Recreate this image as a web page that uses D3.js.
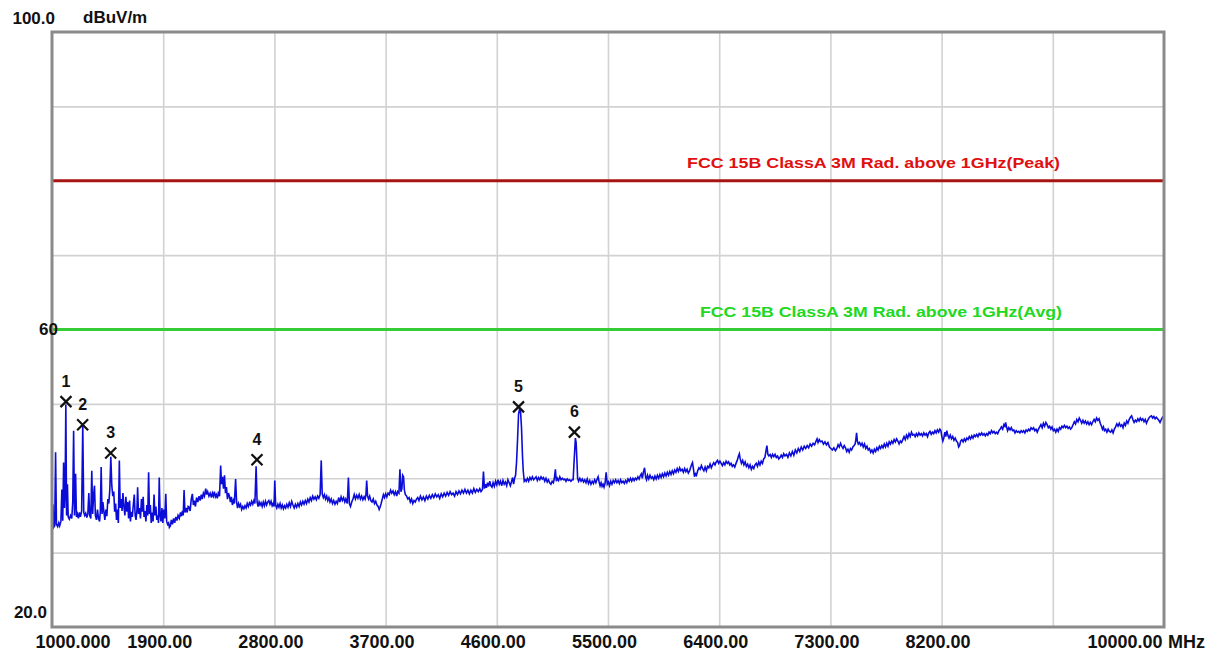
<!DOCTYPE html>
<html>
<head>
<meta charset="utf-8">
<script src="https://cdn.jsdelivr.net/npm/d3@7"></script>
<style>
  body { margin: 0; background: #fff; }
  svg text { font-family: "Liberation Sans", Arial, sans-serif; font-weight: bold; }
</style>
</head>
<body>
<div id="chart"></div>
<script>
// axis ticks
const xTickValues = [1000, 1900, 2800, 3700, 4600, 5500, 6400, 7300, 8200, 10000];
const xTickLabels = ['1000.000', '1900.00', '2800.00', '3700.00', '4600.00', '5500.00', '6400.00', '7300.00', '8200.00', '10000.00'];
const xUnit = 'MHz';
const yTickValues = [100, 60, 20];
const yTickLabels = ['100.0', '60', '20.0'];
const yUnit = 'dBuV/m';

// limit lines
const limitNames = ['FCC 15B ClassA 3M Rad. above 1GHz(Peak)', 'FCC 15B ClassA 3M Rad. above 1GHz(Avg)'];
const limitLevels = [80, 60];

// marked peaks
const markerIds = ['1', '2', '3', '4', '5', '6'];
const markerFreq = [1113, 1248, 1475, 2659, 4776, 5228];
const markerLevel = [50.3, 47.2, 43.4, 42.5, 49.6, 46.2];

// measured trace [MHz, dBuV/m]
const trace = [
  [1000, 33.2], [1008, 36.5], [1014, 33.4], [1022, 33.6], [1029, 43.5], [1036, 33.8], [1046, 33.5], [1055, 34.0],
  [1062, 33.6], [1072, 34.2], [1080, 38.5], [1087, 34.3], [1094, 42.1], [1101, 36.0], [1106, 38.0], [1112, 49.9],
  [1118, 35.0], [1125, 39.2], [1131, 34.8], [1140, 34.5], [1150, 35.0], [1160, 34.6], [1168, 36.8], [1175, 46.4],
  [1182, 35.0], [1191, 40.6], [1198, 34.8], [1206, 35.2], [1214, 34.6], [1222, 35.4], [1230, 34.8], [1240, 35.6],
  [1249, 47.2], [1257, 35.4], [1265, 35.0], [1273, 35.3], [1282, 34.7], [1290, 35.2], [1298, 38.0], [1305, 35.0],
  [1314, 34.6], [1322, 41.0], [1329, 35.2], [1337, 37.8], [1344, 39.0], [1351, 35.0], [1360, 34.4], [1368, 35.8],
  [1376, 34.6], [1385, 34.2], [1391, 35.5], [1398, 41.5], [1405, 35.2], [1412, 36.8], [1420, 35.5], [1428, 34.4],
  [1436, 35.8], [1444, 34.9], [1452, 37.2], [1460, 36.6], [1468, 38.5], [1476, 42.9], [1484, 39.0], [1492, 37.6],
  [1500, 38.2], [1507, 35.5], [1515, 36.6], [1522, 34.4], [1530, 35.8], [1537, 34.0], [1545, 42.4], [1552, 36.0],
  [1560, 37.2], [1567, 35.6], [1574, 38.0], [1582, 36.2], [1590, 35.0], [1598, 37.5], [1606, 35.5], [1613, 36.8],
  [1620, 34.6], [1628, 37.0], [1635, 34.2], [1642, 35.5], [1650, 34.8], [1658, 36.4], [1666, 37.8], [1673, 35.0],
  [1680, 34.4], [1687, 35.6], [1693, 38.8], [1700, 35.2], [1708, 36.0], [1716, 34.6], [1724, 37.2], [1731, 35.5],
  [1738, 37.5], [1745, 34.8], [1752, 35.6], [1760, 34.2], [1768, 36.4], [1775, 35.0], [1782, 40.8], [1789, 35.2],
  [1796, 36.4], [1803, 34.0], [1810, 35.4], [1818, 34.2], [1826, 37.8], [1833, 35.0], [1841, 36.2], [1848, 34.4],
  [1856, 35.0], [1862, 34.0], [1868, 40.1], [1875, 35.0], [1882, 34.2], [1890, 36.0], [1897, 34.0], [1905, 35.8],
  [1913, 34.6], [1921, 37.9], [1928, 34.2], [1936, 33.8], [1944, 34.0], [1950, 33.4], [1958, 33.6], [1966, 34.4],
  [1975, 33.8], [1984, 34.6], [1993, 34.0], [2002, 34.8], [2011, 34.3], [2020, 35.0], [2030, 34.6], [2040, 35.4],
  [2048, 34.9], [2056, 35.6], [2062, 35.0], [2069, 38.4], [2076, 35.4], [2085, 36.0], [2094, 35.4], [2102, 36.2],
  [2110, 36.1], [2118, 35.6], [2127, 37.2], [2136, 37.9], [2144, 36.4], [2152, 37.0], [2161, 36.2], [2170, 37.4],
  [2180, 36.8], [2190, 37.6], [2199, 37.0], [2208, 37.8], [2216, 37.2], [2225, 38.0], [2234, 37.6], [2244, 38.6],
  [2252, 37.8], [2260, 38.2], [2270, 37.6], [2280, 38.0], [2290, 37.4], [2298, 38.0], [2306, 37.6], [2314, 38.2],
  [2322, 37.5], [2330, 37.8], [2338, 37.3], [2346, 38.0], [2356, 37.6], [2365, 41.7], [2372, 39.2], [2380, 40.2],
  [2388, 38.6], [2396, 40.4], [2404, 38.0], [2412, 38.8], [2420, 37.2], [2428, 38.0], [2436, 37.6], [2444, 36.8],
  [2452, 37.5], [2460, 36.4], [2468, 37.0], [2476, 36.6], [2486, 39.9], [2494, 36.8], [2502, 36.0], [2510, 36.6],
  [2518, 36.2], [2526, 36.5], [2535, 35.8], [2544, 36.2], [2553, 35.9], [2562, 36.3], [2571, 36.0], [2580, 36.6],
  [2589, 36.2], [2598, 36.7], [2607, 36.4], [2616, 36.9], [2625, 36.5], [2634, 37.0], [2642, 36.6], [2652, 41.6],
  [2660, 36.8], [2668, 36.2], [2676, 36.8], [2684, 36.4], [2692, 36.7], [2701, 36.2], [2710, 36.8], [2719, 36.3],
  [2728, 36.9], [2737, 36.4], [2746, 36.8], [2755, 37.0], [2764, 36.5], [2773, 36.9], [2782, 36.3], [2790, 36.6],
  [2797, 36.2], [2803, 39.7], [2810, 36.4], [2819, 36.0], [2828, 36.5], [2837, 36.1], [2846, 36.6], [2855, 36.0],
  [2864, 36.4], [2873, 35.9], [2882, 36.3], [2891, 36.0], [2900, 36.5], [2910, 36.1], [2920, 36.7], [2930, 36.2],
  [2940, 36.9], [2950, 36.4], [2960, 36.0], [2970, 36.5], [2980, 36.1], [2990, 36.6], [3000, 36.2], [3010, 36.8],
  [3020, 36.4], [3030, 36.9], [3040, 36.5], [3050, 37.0], [3060, 36.6], [3070, 37.2], [3080, 36.8], [3090, 37.4],
  [3100, 37.0], [3110, 37.6], [3120, 37.2], [3130, 37.5], [3140, 37.1], [3150, 37.6], [3160, 37.3], [3170, 37.8],
  [3179, 42.4], [3187, 37.9], [3196, 37.4], [3205, 37.8], [3214, 37.2], [3223, 37.6], [3232, 37.0], [3241, 37.4],
  [3250, 36.8], [3260, 37.2], [3270, 36.6], [3280, 37.0], [3290, 36.5], [3300, 36.9], [3310, 36.6], [3320, 37.4],
  [3330, 36.8], [3340, 37.5], [3350, 37.0], [3360, 37.4], [3370, 36.8], [3378, 37.2], [3390, 36.6], [3399, 40.1],
  [3407, 36.6], [3416, 36.2], [3426, 36.8], [3436, 37.2], [3446, 37.8], [3456, 37.2], [3466, 37.7], [3476, 37.3],
  [3486, 37.8], [3496, 37.2], [3506, 37.6], [3516, 37.1], [3526, 37.5], [3534, 37.2], [3541, 37.8], [3547, 39.7],
  [3554, 37.6], [3562, 37.2], [3571, 37.6], [3580, 37.0], [3590, 36.8], [3600, 37.2], [3610, 36.6], [3620, 36.9],
  [3630, 36.4], [3640, 36.2], [3648, 35.8], [3655, 36.1], [3664, 36.6], [3673, 37.2], [3682, 37.8], [3691, 37.4],
  [3700, 37.9], [3710, 37.5], [3720, 38.0], [3730, 37.8], [3740, 38.4], [3750, 38.0], [3760, 38.3], [3770, 37.8],
  [3780, 38.2], [3790, 37.6], [3798, 38.2], [3808, 38.0], [3816, 41.2], [3824, 38.2], [3832, 38.6], [3838, 40.4],
  [3845, 40.2], [3852, 38.4], [3860, 37.8], [3870, 37.6], [3880, 37.2], [3890, 37.4], [3900, 36.8], [3910, 37.2],
  [3920, 36.6], [3930, 37.0], [3940, 36.8], [3950, 37.2], [3960, 37.4], [3970, 37.0], [3982, 37.6], [3994, 37.1],
  [4006, 37.5], [4018, 37.0], [4030, 37.6], [4042, 37.2], [4054, 37.7], [4066, 37.3], [4078, 37.8], [4090, 37.4],
  [4102, 37.9], [4114, 37.5], [4126, 37.8], [4138, 37.3], [4150, 37.9], [4162, 37.5], [4174, 38.0], [4186, 37.6],
  [4198, 38.1], [4210, 37.7], [4222, 38.2], [4234, 37.8], [4246, 38.0], [4258, 37.6], [4270, 38.2], [4282, 37.8],
  [4294, 38.3], [4306, 37.9], [4318, 38.4], [4330, 38.0], [4342, 38.5], [4354, 38.0], [4366, 38.4], [4378, 37.9],
  [4390, 38.4], [4402, 38.0], [4414, 38.6], [4426, 38.1], [4438, 38.5], [4450, 38.2], [4462, 38.6], [4472, 38.2],
  [4484, 38.5], [4492, 40.9], [4500, 38.6], [4508, 39.2], [4516, 38.7], [4525, 39.4], [4534, 38.9], [4543, 39.6],
  [4552, 39.0], [4561, 38.8], [4570, 39.4], [4580, 38.9], [4590, 39.6], [4600, 39.1], [4610, 39.8], [4620, 39.2],
  [4630, 39.6], [4640, 39.0], [4650, 39.7], [4660, 39.2], [4670, 39.5], [4680, 39.0], [4690, 39.8], [4700, 39.4],
  [4710, 39.0], [4720, 39.6], [4728, 40.1], [4736, 39.2], [4744, 40.0], [4752, 40.4], [4760, 42.2], [4768, 45.2],
  [4776, 48.6], [4784, 49.3], [4792, 49.0], [4800, 46.8], [4808, 43.0], [4814, 41.0], [4822, 39.6], [4830, 39.8],
  [4838, 39.6], [4848, 40.0], [4858, 39.6], [4868, 40.1], [4878, 39.8], [4888, 40.2], [4898, 39.8], [4908, 40.0],
  [4918, 40.2], [4928, 39.7], [4938, 40.1], [4948, 39.8], [4958, 40.2], [4968, 39.9], [4978, 40.1], [4988, 39.6],
  [4998, 40.0], [5008, 39.5], [5018, 39.8], [5028, 39.4], [5038, 39.2], [5048, 39.6], [5058, 39.4], [5066, 40.0],
  [5074, 41.2], [5082, 39.6], [5090, 40.0], [5100, 39.7], [5110, 40.2], [5120, 39.8], [5130, 40.0], [5140, 39.8],
  [5150, 39.9], [5160, 39.6], [5170, 39.9], [5180, 39.7], [5190, 39.8], [5200, 39.6], [5210, 39.8], [5218, 39.8],
  [5224, 41.8], [5230, 43.6], [5236, 45.4], [5242, 44.8], [5248, 42.6], [5254, 40.0], [5262, 39.6], [5272, 40.0],
  [5282, 39.6], [5292, 39.9], [5302, 39.5], [5312, 39.8], [5322, 39.4], [5332, 39.9], [5342, 39.3], [5352, 39.7],
  [5362, 39.2], [5372, 39.6], [5382, 39.3], [5392, 39.8], [5402, 39.4], [5412, 39.9], [5420, 40.2], [5428, 39.5],
  [5436, 39.0], [5444, 39.4], [5452, 38.9], [5460, 39.2], [5468, 38.8], [5476, 39.3], [5485, 40.8], [5494, 39.2],
  [5503, 39.5], [5512, 39.0], [5522, 39.6], [5532, 39.2], [5542, 39.7], [5552, 39.4], [5562, 39.8], [5572, 39.4],
  [5582, 39.7], [5592, 39.3], [5602, 39.8], [5612, 39.4], [5622, 39.6], [5632, 39.3], [5642, 39.7], [5652, 39.4],
  [5662, 39.9], [5672, 39.6], [5682, 40.0], [5692, 39.6], [5702, 40.0], [5712, 39.7], [5722, 40.0], [5732, 39.8],
  [5742, 40.2], [5752, 39.9], [5762, 40.4], [5770, 40.6], [5778, 40.0], [5786, 40.8], [5796, 41.4], [5804, 40.2],
  [5812, 39.8], [5820, 40.4], [5830, 39.9], [5840, 40.4], [5850, 40.0], [5860, 40.2], [5870, 39.8], [5880, 40.3],
  [5890, 39.9], [5900, 40.4], [5910, 40.0], [5920, 40.5], [5930, 40.1], [5940, 40.6], [5950, 40.2], [5960, 40.7],
  [5970, 40.3], [5980, 40.8], [5990, 40.4], [6000, 40.9], [6010, 40.5], [6020, 41.0], [6030, 40.6], [6040, 41.1],
  [6050, 40.8], [6060, 41.3], [6070, 40.9], [6080, 41.4], [6090, 41.0], [6100, 41.2], [6110, 40.8], [6120, 41.3],
  [6130, 40.9], [6140, 41.2], [6150, 40.7], [6160, 41.0], [6168, 41.4], [6176, 41.8], [6184, 42.1], [6192, 41.2],
  [6200, 40.2], [6208, 40.6], [6216, 40.4], [6226, 41.0], [6236, 41.4], [6246, 41.2], [6256, 41.7], [6266, 41.3],
  [6276, 41.0], [6286, 41.5], [6296, 41.0], [6306, 41.6], [6316, 41.4], [6326, 41.9], [6336, 41.4], [6346, 41.8],
  [6356, 42.1], [6366, 41.8], [6376, 42.2], [6386, 42.4], [6396, 42.0], [6406, 42.3], [6416, 42.0], [6426, 41.7],
  [6436, 42.1], [6446, 41.8], [6456, 42.3], [6466, 42.0], [6476, 42.2], [6486, 41.8], [6496, 42.0], [6506, 41.6],
  [6516, 41.8], [6526, 41.5], [6536, 42.0], [6546, 42.4], [6556, 43.0], [6563, 43.3], [6570, 42.6], [6580, 42.0],
  [6590, 42.4], [6600, 41.8], [6610, 42.2], [6620, 41.6], [6630, 41.9], [6640, 41.4], [6650, 41.8], [6660, 41.2],
  [6670, 41.6], [6680, 41.3], [6690, 41.8], [6700, 42.0], [6710, 41.6], [6720, 42.2], [6730, 41.8], [6740, 42.3],
  [6750, 42.0], [6760, 42.6], [6770, 42.8], [6778, 43.6], [6786, 44.4], [6794, 43.2], [6802, 43.0], [6812, 43.2],
  [6822, 42.8], [6832, 43.2], [6842, 42.9], [6852, 43.2], [6862, 42.8], [6872, 43.0], [6882, 42.6], [6892, 42.8],
  [6902, 43.1], [6912, 42.8], [6922, 43.3], [6932, 43.0], [6945, 43.2], [6956, 42.8], [6968, 43.4], [6980, 43.0],
  [6992, 43.6], [7004, 43.1], [7016, 43.8], [7028, 43.4], [7040, 44.0], [7052, 43.6], [7064, 44.2], [7076, 43.8],
  [7088, 44.3], [7100, 44.0], [7112, 44.4], [7124, 44.1], [7136, 44.6], [7148, 44.3], [7160, 44.7], [7172, 44.5],
  [7184, 45.0], [7192, 45.3], [7200, 44.8], [7210, 45.2], [7220, 44.9], [7232, 45.0], [7244, 44.6], [7256, 44.9],
  [7268, 44.5], [7280, 44.8], [7292, 44.2], [7304, 44.0], [7316, 43.8], [7328, 44.1], [7340, 43.7], [7352, 44.0],
  [7362, 44.5], [7372, 44.2], [7382, 44.7], [7392, 44.3], [7402, 44.0], [7412, 44.4], [7422, 44.1], [7432, 43.6],
  [7442, 43.9], [7452, 43.5], [7462, 44.0], [7472, 43.8], [7482, 44.2], [7492, 44.4], [7500, 44.6], [7506, 45.2],
  [7512, 46.1], [7518, 45.0], [7526, 44.6], [7536, 44.8], [7546, 44.4], [7556, 44.7], [7566, 44.2], [7576, 44.6],
  [7586, 44.0], [7596, 44.3], [7606, 43.8], [7616, 44.0], [7626, 43.5], [7636, 43.8], [7646, 43.4], [7656, 43.9],
  [7666, 43.6], [7676, 44.1], [7686, 43.8], [7696, 44.3], [7706, 44.0], [7716, 44.4], [7726, 44.1], [7736, 44.6],
  [7746, 44.2], [7756, 44.7], [7766, 44.3], [7776, 44.9], [7786, 44.6], [7796, 45.0], [7806, 44.7], [7816, 45.2],
  [7826, 44.9], [7836, 45.3], [7846, 45.0], [7856, 44.6], [7866, 45.0], [7876, 44.8], [7886, 45.2], [7896, 45.6],
  [7906, 45.2], [7916, 45.8], [7926, 45.4], [7936, 46.0], [7946, 45.6], [7956, 46.2], [7966, 45.8], [7976, 45.9],
  [7986, 45.6], [7996, 46.0], [8006, 45.7], [8016, 46.1], [8026, 45.8], [8036, 46.0], [8046, 45.7], [8056, 46.1],
  [8066, 45.8], [8076, 46.0], [8086, 45.6], [8096, 46.1], [8106, 46.3], [8116, 45.9], [8126, 46.2], [8136, 46.0],
  [8146, 46.4], [8156, 46.1], [8166, 46.5], [8176, 46.2], [8186, 46.6], [8194, 46.4], [8202, 45.6], [8210, 45.0],
  [8218, 45.4], [8226, 46.2], [8234, 45.6], [8242, 46.4], [8250, 45.8], [8260, 45.4], [8270, 45.8], [8280, 45.3],
  [8290, 45.6], [8300, 45.1], [8310, 45.4], [8320, 45.0], [8330, 44.8], [8338, 44.2], [8346, 44.4], [8354, 45.0],
  [8364, 45.2], [8374, 44.9], [8384, 45.3], [8394, 45.0], [8404, 45.4], [8414, 45.2], [8424, 45.6], [8434, 45.3],
  [8444, 45.7], [8454, 45.4], [8464, 45.8], [8474, 45.6], [8484, 45.9], [8494, 45.6], [8504, 46.0], [8514, 45.8],
  [8524, 46.1], [8534, 45.8], [8544, 46.0], [8554, 45.7], [8564, 46.0], [8574, 45.8], [8584, 46.2], [8594, 46.0],
  [8604, 46.4], [8614, 46.1], [8624, 46.3], [8634, 46.0], [8644, 46.2], [8654, 46.0], [8664, 46.4], [8674, 46.6],
  [8684, 46.9], [8694, 46.6], [8704, 47.2], [8712, 47.0], [8718, 47.5], [8726, 46.9], [8734, 46.4], [8744, 46.8],
  [8754, 46.5], [8764, 46.8], [8774, 46.4], [8784, 46.5], [8794, 46.1], [8804, 46.4], [8814, 46.2], [8824, 46.3],
  [8834, 46.1], [8844, 46.4], [8854, 46.2], [8864, 46.4], [8874, 46.1], [8884, 46.5], [8894, 46.3], [8904, 46.6],
  [8914, 46.4], [8924, 46.8], [8934, 46.6], [8944, 46.8], [8954, 46.4], [8964, 46.6], [8974, 46.2], [8984, 46.6],
  [8994, 46.9], [9004, 47.2], [9014, 46.8], [9024, 47.4], [9034, 47.0], [9044, 47.5], [9054, 47.2], [9064, 46.8],
  [9074, 47.0], [9084, 46.6], [9094, 46.9], [9104, 46.4], [9114, 46.6], [9124, 46.2], [9134, 46.6], [9144, 46.3],
  [9154, 46.8], [9164, 46.6], [9174, 47.0], [9184, 46.8], [9194, 47.1], [9204, 46.8], [9214, 47.0], [9224, 46.7],
  [9234, 46.9], [9244, 46.6], [9254, 46.8], [9264, 47.2], [9274, 47.6], [9284, 47.3], [9294, 47.9], [9304, 47.6],
  [9314, 48.1], [9324, 47.8], [9334, 47.4], [9344, 47.8], [9354, 47.4], [9364, 47.7], [9374, 47.3], [9384, 47.6],
  [9394, 47.2], [9404, 47.5], [9414, 47.2], [9424, 47.6], [9434, 47.9], [9444, 47.6], [9454, 48.1], [9464, 47.8],
  [9474, 48.0], [9484, 47.4], [9494, 47.0], [9502, 46.6], [9510, 46.9], [9518, 46.4], [9528, 46.6], [9538, 46.2],
  [9548, 46.6], [9558, 46.3], [9568, 46.2], [9578, 46.5], [9588, 46.1], [9598, 46.6], [9608, 46.9], [9618, 47.3],
  [9628, 47.0], [9638, 47.4], [9648, 47.0], [9658, 47.2], [9668, 46.8], [9678, 47.4], [9688, 47.1], [9698, 47.7],
  [9708, 47.4], [9718, 47.9], [9728, 48.2], [9738, 48.4], [9748, 47.9], [9758, 47.5], [9768, 47.8], [9778, 47.6],
  [9788, 48.0], [9798, 47.7], [9808, 48.1], [9818, 47.8], [9828, 48.0], [9838, 47.6], [9848, 47.9], [9858, 47.4],
  [9868, 47.8], [9878, 48.1], [9888, 48.3], [9898, 48.4], [9908, 48.1], [9918, 48.3], [9928, 48.0], [9938, 48.2],
  [9948, 48.0], [9958, 47.8], [9968, 47.5], [9978, 47.9], [9988, 48.2], [10000, 48.4]
];

const config = {
  width: 1210,
  height: 655,
  margin: { top: 32, right: 46, bottom: 28, left: 52 }
};
const w = config.width - config.margin.left - config.margin.right;
const h = config.height - config.margin.top - config.margin.bottom;

const svg = d3.select('#chart').append('svg')
  .attr('width', config.width)
  .attr('height', config.height);

const chart = svg.append('g')
  .attr('transform', `translate(${config.margin.left},${config.margin.top})`);

const x = d3.scaleLinear().domain([1000, 10000]).range([0, w]);
const y = d3.scaleLinear().domain([20, 100]).range([h, 0]);

// grid
const xGrid = chart.append('g')
  .attr('transform', `translate(0,${h})`)
  .call(d3.axisBottom(x).tickValues(d3.range(1900, 10000, 900)).tickSize(-h).tickFormat(''));
const yGrid = chart.append('g')
  .call(d3.axisLeft(y).tickValues(d3.range(30, 100, 10)).tickSize(-w).tickFormat(''));
[xGrid, yGrid].forEach(g => {
  g.select('.domain').remove();
  g.selectAll('line').attr('stroke', '#d2d2d2').attr('stroke-width', 1.6);
});

// limit lines
const limitColors = ['#a81414', '#35cc35'];
const limitTextColors = ['#e01010', '#22d822'];
const limitTextLen = [373, 362];
limitLevels.forEach((lv, i) => {
  chart.append('line')
    .attr('x1', 0).attr('x2', w)
    .attr('y1', y(lv)).attr('y2', y(lv))
    .attr('stroke', limitColors[i])
    .attr('stroke-width', 3);
  chart.append('text')
    .attr('x', w - 104 + i * 2)
    .attr('y', y(lv) - 13)
    .attr('text-anchor', 'end')
    .attr('font-size', 15)
    .attr('fill', limitTextColors[i])
    .attr('textLength', limitTextLen[i])
    .attr('lengthAdjust', 'spacingAndGlyphs')
    .text(limitNames[i]);
});

// trace
const line = d3.line()
  .x(d => x(d[0]))
  .y(d => y(d[1]));

chart.append('path')
  .datum(trace)
  .attr('fill', 'none')
  .attr('stroke', '#0c0cd8')
  .attr('stroke-width', 1.6)
  .attr('stroke-linejoin', 'miter')
  .attr('d', line);

// markers
const markers = chart.selectAll('.marker')
  .data(markerIds)
  .enter().append('g')
  .attr('class', 'marker')
  .attr('transform', (d, i) => `translate(${x(markerFreq[i])},${y(markerLevel[i])})`);

markers.append('path')
  .attr('d', 'M-5.5,-5.5L5.5,5.5M-5.5,5.5L5.5,-5.5')
  .attr('stroke', '#111')
  .attr('stroke-width', 2.2)
  .attr('fill', 'none');

markers.append('text')
  .attr('y', -15)
  .attr('text-anchor', 'middle')
  .attr('font-size', 16)
  .attr('fill', '#111')
  .text(d => d);

// frame
chart.append('rect')
  .attr('width', w)
  .attr('height', h)
  .attr('fill', 'none')
  .attr('stroke', '#8a8a8a')
  .attr('stroke-width', 3);

// x tick labels
const xAxis = chart.append('g')
  .attr('transform', `translate(0,${h})`)
  .call(d3.axisBottom(x).tickValues(xTickValues).tickSize(0).tickPadding(0)
    .tickFormat((d, i) => xTickLabels[i]));
xAxis.select('.domain').remove();
xAxis.selectAll('text')
  .attr('y', 21)
  .attr('dy', 0)
  .attr('font-size', 18)
  .attr('fill', '#111')
  .attr('x', -4);
xAxis.selectAll('text').filter((d, i) => i === 0)
  .attr('text-anchor', 'start').attr('x', -17);
xAxis.selectAll('text').filter((d, i) => i === xTickValues.length - 1)
  .attr('text-anchor', 'end').attr('x', -2);
chart.append('text')
  .attr('x', w + 4)
  .attr('y', h + 21)
  .attr('font-size', 18)
  .attr('fill', '#111')
  .text(xUnit);

// y tick labels
const yAxis = chart.append('g')
  .call(d3.axisLeft(y).tickValues(yTickValues).tickSize(0).tickPadding(0)
    .tickFormat((d, i) => yTickLabels[i]));
yAxis.select('.domain').remove();
const yLabelShift = [[3, -15], [6, -1], [-5, -16]];
yAxis.selectAll('text')
  .attr('font-size', 17)
  .attr('fill', '#111')
  .attr('dy', '0.36em')
  .attr('x', (d, i) => yLabelShift[i][0])
  .attr('y', (d, i) => yLabelShift[i][1]);
chart.append('text')
  .attr('x', 31)
  .attr('y', -15)
  .attr('dy', '0.36em')
  .attr('font-size', 17)
  .attr('fill', '#111')
  .text(yUnit);
</script>
</body>
</html>
